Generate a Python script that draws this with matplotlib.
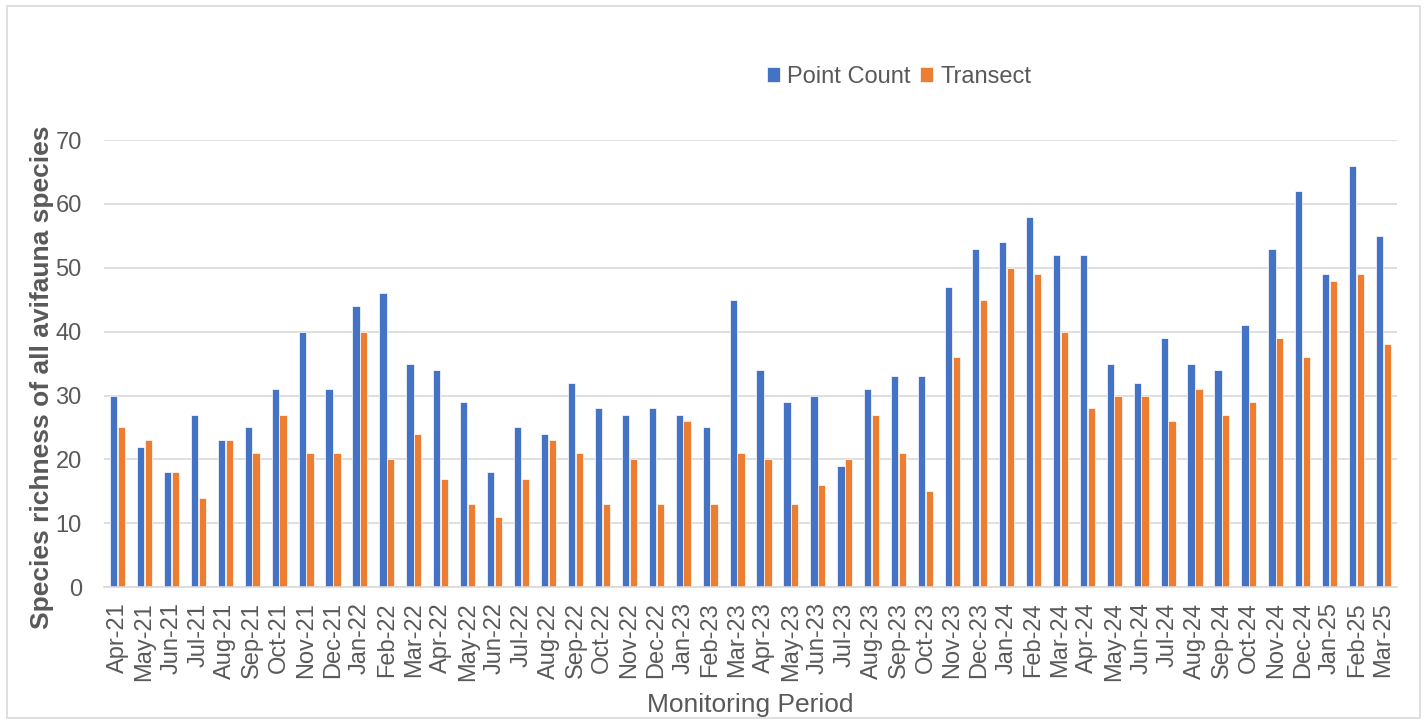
import numpy as np
import matplotlib.pyplot as plt
from matplotlib.patches import Rectangle

plt.rcParams['font.family'] = ['Liberation Sans', 'DejaVu Sans']

months = ['Apr-21', 'May-21', 'Jun-21', 'Jul-21', 'Aug-21', 'Sep-21', 'Oct-21', 'Nov-21',
          'Dec-21', 'Jan-22', 'Feb-22', 'Mar-22', 'Apr-22', 'May-22', 'Jun-22', 'Jul-22',
          'Aug-22', 'Sep-22', 'Oct-22', 'Nov-22', 'Dec-22', 'Jan-23', 'Feb-23', 'Mar-23',
          'Apr-23', 'May-23', 'Jun-23', 'Jul-23', 'Aug-23', 'Sep-23', 'Oct-23', 'Nov-23',
          'Dec-23', 'Jan-24', 'Feb-24', 'Mar-24', 'Apr-24', 'May-24', 'Jun-24', 'Jul-24',
          'Aug-24', 'Sep-24', 'Oct-24', 'Nov-24', 'Dec-24', 'Jan-25', 'Feb-25', 'Mar-25']

point_count = [30, 22, 18, 27, 23, 25, 31, 40, 31, 44, 46, 35, 34, 29, 18, 25,
               24, 32, 28, 27, 28, 27, 25, 45, 34, 29, 30, 19, 31, 33, 33, 47,
               53, 54, 58, 52, 52, 35, 32, 39, 35, 34, 41, 53, 62, 49, 66, 55]

transect = [25, 23, 18, 14, 23, 21, 27, 21, 21, 40, 20, 24, 17, 13, 11, 17,
            23, 21, 13, 20, 13, 26, 13, 21, 20, 13, 16, 20, 27, 21, 15, 36,
            45, 50, 49, 40, 28, 30, 30, 26, 31, 27, 29, 39, 36, 48, 49, 38]

blue = '#4472c4'
orange = '#ed7d31'
grey = '#595959'
gridc = '#d9d9d9'

fig = plt.figure(figsize=(14.27, 7.24), dpi=100)
ax = fig.add_axes([0.0729, 0.189, 0.9061, 0.6176])

x = np.arange(len(months))
w = 0.27
ax.bar(x - 0.145, point_count, w, color=blue, edgecolor='white', linewidth=0.5,
       label='Point Count', zorder=3)
ax.bar(x + 0.145, transect, w, color=orange, edgecolor='white', linewidth=0.5,
       label='Transect', zorder=3)

ax.set_xlim(-0.5, len(months) - 0.5)
ax.set_ylim(0, 70)
ax.set_yticks(range(0, 71, 10))
ax.set_xticks(x)
ax.set_xticklabels(months, rotation=90)
ax.tick_params(axis='x', length=0, pad=11, labelsize=17, labelcolor=grey)
ax.tick_params(axis='y', length=0, pad=16, labelsize=17, labelcolor=grey)

ax.grid(axis='y', color=gridc, linewidth=1.2, zorder=0)
for s in ['top', 'right', 'left']:
    ax.spines[s].set_visible(False)
ax.spines['bottom'].set_color(gridc)
ax.spines['bottom'].set_linewidth(1.2)
ax.spines['bottom'].set_zorder(4)

fig.text(0.0295, 0.479, 'Species richness of all avifauna species', rotation=90,
         ha='center', va='center', fontsize=19, fontweight='bold', color=grey)
fig.text(0.526, 0.026, 'Monitoring Period', ha='center', va='center',
         fontsize=19, color=grey)

fig.legend(loc='center', bbox_to_anchor=(0.63, 0.894), ncol=2, frameon=False,
           fontsize=17, labelcolor=grey, handlelength=0.55, handleheight=0.55,
           handletextpad=0.3, columnspacing=0.4)

# thin frame round the whole chart
fig.patches.append(Rectangle((0.005, 0.008), 0.99, 0.984, transform=fig.transFigure,
                             fill=False, edgecolor=gridc, linewidth=1.2))

fig.savefig('out.png', dpi=100)
